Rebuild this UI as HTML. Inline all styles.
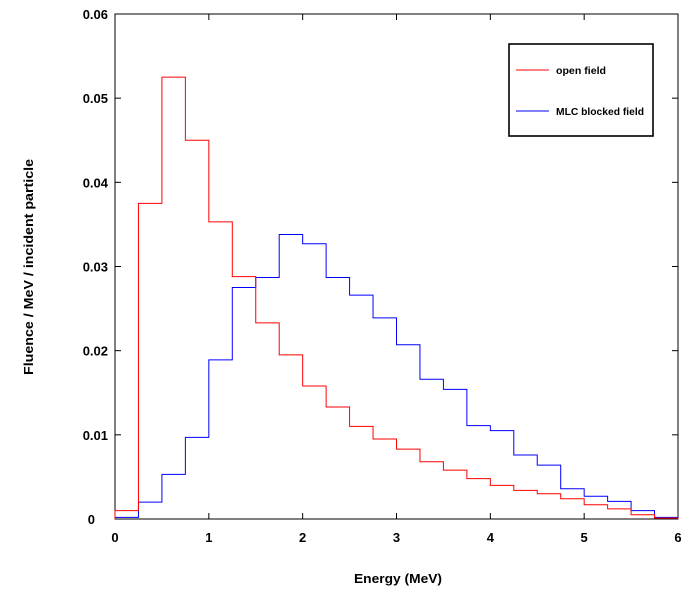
<!DOCTYPE html>
<html><head><meta charset="utf-8"><style>
body{margin:0;background:#fff;}
svg text{font-family:"Liberation Sans",sans-serif;}
</style></head><body>
<svg width="691" height="591">
<g id="axes"></g>
<g id="series"></g>
<g>
<rect x="509" y="44" width="144" height="92" fill="#fff" stroke="#000" stroke-width="1.6"/>
<line x1="516" y1="70" x2="549" y2="70" stroke="#f00"/>
<text x="556" y="74" font-size="10" font-weight="bold" textLength="50" lengthAdjust="spacingAndGlyphs">open field</text>
<line x1="516" y1="111" x2="549" y2="111" stroke="#00f"/>
<text x="556" y="115" font-size="10" font-weight="bold" textLength="88" lengthAdjust="spacingAndGlyphs">MLC blocked field</text>
</g>
<text x="398" y="583" font-size="13" font-weight="bold" text-anchor="middle" textLength="88" lengthAdjust="spacingAndGlyphs">Energy (MeV)</text>
<text transform="translate(33,267) rotate(-90)" font-size="13" font-weight="bold" text-anchor="middle" textLength="216" lengthAdjust="spacingAndGlyphs">Fluence / MeV / incident particle</text>
</svg>
<script>
const binWidth = 0.25;
const openField = [0.001,0.0375,0.0525,0.045,0.0353,0.0288,0.0233,0.0195,0.0158,0.0133,0.011,0.0095,0.0083,0.0068,0.0058,0.0048,0.004,0.0034,0.003,0.0024,0.0017,0.0012,0.0005,0.0001];
const mlcBlocked = [0.0002,0.002,0.0053,0.0097,0.0189,0.0275,0.0287,0.0338,0.0327,0.0287,0.0266,0.0239,0.0207,0.0166,0.0154,0.0111,0.0105,0.0076,0.0064,0.0036,0.0027,0.0021,0.001,0.0002];
const xTicks = [0,1,2,3,4,5,6];
const yTicks = [0,0.01,0.02,0.03,0.04,0.05,0.06];
const yTickLabels = ["0","0.01","0.02","0.03","0.04","0.05","0.06"];
const L=115,R=678,T=14,B=519;
const sx=v=>L+(v-0)/6*(R-L);
const sy=v=>B-(v/0.06)*(B-T);
const NS="http://www.w3.org/2000/svg";
const ax=document.getElementById('axes');
const ser=document.getElementById('series');
function mk(tag,attrs,parent){const e=document.createElementNS(NS,tag);for(const k in attrs)e.setAttribute(k,attrs[k]);parent.appendChild(e);return e;}
const frame=mk('rect',{x:L,y:T,width:R-L,height:B-T,fill:'none',stroke:'#000'},ax);


xTicks.forEach(v=>{
 const x=sx(v);
 const t1=mk('line',{x1:x,y1:B,x2:x,y2:B-6,stroke:'#000'},ax);
 
 
 const t2=mk('line',{x1:x,y1:T,x2:x,y2:T+6,stroke:'#000'},ax);
 
 
 const tx=mk('text',{x:x,y:B+23,'font-size':13,'font-weight':'bold','text-anchor':'middle'},ax);
 tx.textContent=v;
 
 
});
yTicks.forEach((v,i)=>{
 const y=sy(v);
 const t1=mk('line',{x1:L,y1:y,x2:L+6,y2:y,stroke:'#000'},ax);
 
 
 const t2=mk('line',{x1:R,y1:y,x2:R-6,y2:y,stroke:'#000'},ax);
 
 
 const tx=mk('text',{x:(v===0?95:108),y:y+5,'font-size':13,'font-weight':'bold','text-anchor':'end'},ax);
 tx.textContent=yTickLabels[i];
 
 
});
function step(vals){
 let d='M'+sx(0)+','+sy(0);
 vals.forEach((v,i)=>{d+=' L'+sx(i*binWidth)+','+sy(v)+' L'+sx((i+1)*binWidth)+','+sy(v);});
 d+=' L'+sx(vals.length*binWidth)+','+sy(0);
 return d;
}
const p1=mk('path',{d:step(mlcBlocked),fill:'none',stroke:'#00f','stroke-width':1},ser);


const p2=mk('path',{d:step(openField),fill:'none',stroke:'#f00','stroke-width':1},ser);


</script>
</body></html>
